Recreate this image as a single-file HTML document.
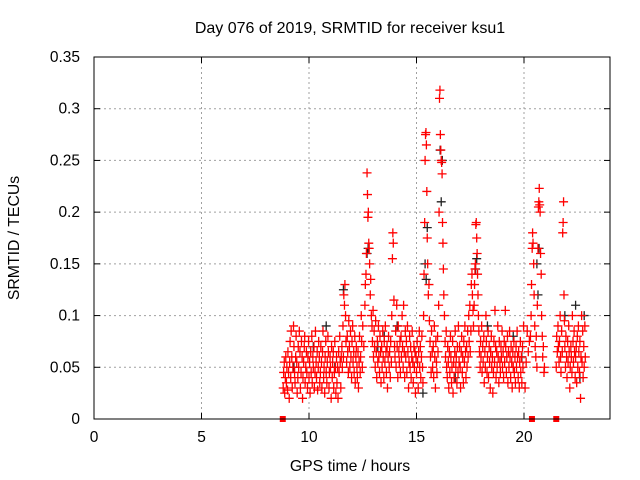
<!DOCTYPE html>
<html><head><meta charset="utf-8"><style>
body{margin:0;background:#fff}
svg{display:block;font-family:"Liberation Sans",sans-serif}
</style></head><body>
<svg id="chart" width="640" height="480" viewBox="0 0 640 480">
<rect width="640" height="480" fill="#fff"/>
<text x="350" y="33" text-anchor="middle" font-size="16">Day 076 of 2019, SRMTID for receiver ksu1</text>
<text x="350" y="471" text-anchor="middle" font-size="15.8">GPS time / hours</text>
<text transform="translate(19,238) rotate(-90)" text-anchor="middle" font-size="15.8">SRMTID / TECUs</text>
<g id="grid"></g>
<g id="axes"></g>
<g id="black"></g>
<g id="red"></g>
<rect x="94" y="57" width="516" height="362" fill="none" stroke="#000" stroke-width="1"/>
</svg>
<script>
const xTicks=[0,5,10,15,20];
const yTicks=[0,0.05,0.1,0.15,0.2,0.25,0.3,0.35];
const yTickLabels=["0","0.05","0.1","0.15","0.2","0.25","0.3","0.35"];
const gapMarkers=[8.78,20.37,21.5];
const blackPts=[[9.3,.05],[10.2,.07],[10.8,.09],[11.6,.125],[12.7,.16],[12.75,.165],[13.2,.07],[14.1,.09],[15.4,.15],[15.45,.135],[15.5,.185],[16.1,.26],[16.15,.21],[16.2,.25],[17.8,.155],[17.75,.145],[18.3,.09],[19.5,.08],[20.6,.15],[20.65,.12],[20.7,.165],[21.9,.1],[22.4,.11],[22.8,.1],[22.6,.04],[15.3,.025],[16.8,.04],[13.5,.08],[11.2,.05],[19.9,.06]];
const redPts=[[8.8,.03],[8.82,.045],[8.85,.055],[8.87,.025],[8.9,.04],[8.92,.06],[8.95,.035],[8.97,.05],[9.0,.028],[9.02,.065],[9.05,.045],[9.08,.02],[9.1,.055],[9.12,.075],[9.15,.04],[9.17,.085],[9.2,.06],[9.22,.03],[9.25,.05],[9.28,.09],[9.3,.07],[9.33,.045],[9.35,.035],[9.38,.06],[9.4,.08],[9.43,.055],[9.45,.025],[9.48,.04],[9.5,.07],
[9.52,.05],[9.55,.085],[9.58,.065],[9.6,.03],[9.63,.045],[9.65,.075],[9.68,.06],[9.7,.02],[9.72,.04],[9.75,.055],[9.78,.07],[9.8,.08],[9.82,.035],[9.85,.05],[9.88,.065],[9.9,.045],[9.93,.03],[9.95,.06],[9.98,.075],[10.0,.04],[10.03,.055],[10.05,.025],[10.08,.065],[10.1,.045],[10.13,.08],[10.15,.035],[10.18,.06],[10.2,.05],[10.23,.07],[10.25,.03],[10.28,.045],[10.3,.085],[10.33,.055],[10.35,.04],[10.38,.065],[10.4,.028],[10.43,.05],[10.45,.075],[10.48,.06],
[10.5,.035],[10.53,.045],[10.55,.07],[10.58,.055],[10.6,.03],[10.63,.065],[10.65,.085],[10.68,.04],[10.7,.05],[10.73,.025],[10.75,.06],[10.78,.075],[10.8,.045],[10.83,.035],[10.85,.055],[10.88,.08],[10.9,.065],[10.93,.03],[10.95,.045],[10.98,.06],[11.0,.05],[11.03,.02],[11.05,.07],[11.08,.04],[11.1,.055],[11.13,.065],[11.15,.03],[11.18,.045],[11.2,.075],[11.23,.05],[11.25,.025],[11.28,.06],[11.3,.035],[11.33,.05],[11.35,.02],[11.38,.065],[11.4,.045],[11.43,.08],[11.45,.055],[11.48,.03],
[11.5,.06],[11.53,.07],[11.55,.05],[11.58,.09],[11.6,.06],[11.62,.12],[11.65,.11],[11.67,.13],[11.7,.1],[11.72,.075],[11.75,.055],[11.78,.08],[11.8,.065],[11.83,.045],[11.85,.095],[11.88,.07],[11.9,.05],[11.93,.085],[11.95,.06],[11.98,.04],[12.0,.075],[12.03,.09],[12.05,.055],[12.08,.065],[12.1,.045],[12.13,.08],[12.15,.035],[12.18,.06],[12.2,.07],[12.23,.05],[12.25,.04],[12.28,.065],[12.3,.03],[12.33,.055],[12.35,.08],[12.38,.045],[12.4,.06],[12.43,.1],[12.45,.075],[12.48,.05],
[12.5,.09],[12.55,.07],[12.6,.11],[12.62,.13],[12.65,.14],[12.67,.16],[12.7,.238],[12.72,.217],[12.74,.195],[12.76,.2],[12.78,.17],[12.8,.165],[12.82,.15],[12.85,.12],[12.87,.135],[12.9,.1],[12.93,.09],[12.95,.075],[12.98,.105],
[13.0,.06],[13.03,.085],[13.05,.07],[13.08,.05],[13.1,.095],[13.13,.065],[13.15,.04],[13.18,.075],[13.2,.055],[13.23,.09],[13.25,.06],[13.28,.045],[13.3,.08],[13.33,.065],[13.35,.035],[13.38,.07],[13.4,.05],[13.43,.085],[13.45,.06],[13.48,.04],[13.5,.075],[13.53,.055],[13.55,.09],[13.58,.065],[13.6,.045],[13.63,.07],[13.65,.03],[13.68,.06],[13.7,.08],[13.73,.05],[13.75,.065],[13.78,.04],[13.8,.075],[13.83,.055],[13.85,.1],[13.88,.155],[13.9,.18],[13.92,.17],[13.95,.115],[13.98,.07],
[14.0,.06],[14.03,.085],[14.05,.05],[14.08,.11],[14.1,.07],[14.13,.04],[14.15,.09],[14.18,.065],[14.2,.055],[14.23,.075],[14.25,.045],[14.28,.08],[14.3,.06],[14.33,.1],[14.35,.07],[14.38,.05],[14.4,.11],[14.43,.065],[14.45,.04],[14.48,.085],[14.5,.06],[14.53,.075],[14.55,.045],[14.58,.09],[14.6,.065],[14.63,.03],[14.65,.055],[14.68,.08],[14.7,.05],[14.73,.07],[14.75,.04],[14.78,.06],[14.8,.085],[14.83,.055],[14.85,.035],[14.88,.07],[14.9,.05],[14.93,.065],[14.95,.025],[14.98,.06],
[15.0,.045],[15.03,.075],[15.05,.055],[15.08,.03],[15.1,.065],[15.13,.085],[15.15,.05],[15.18,.07],[15.2,.04],[15.23,.06],[15.25,.08],[15.28,.05],[15.3,.035],[15.33,.1],[15.35,.14],[15.38,.19],[15.4,.25],[15.42,.275],[15.44,.277],[15.46,.265],[15.48,.22],[15.5,.175],[15.52,.15],[15.55,.12],[15.58,.13],[15.6,.095],[15.63,.075],[15.65,.06],[15.68,.045],[15.7,.085],[15.73,.065],[15.75,.05],[15.78,.07],[15.8,.04],[15.83,.09],[15.85,.06],[15.88,.03],[15.9,.075],[15.93,.055],[15.95,.045],[15.98,.08],
[16.0,.065],[16.03,.11],[16.05,.2],[16.07,.31],[16.09,.318],[16.11,.275],[16.13,.26],[16.15,.25],[16.17,.248],[16.19,.237],[16.21,.19],[16.23,.17],[16.25,.145],[16.27,.12],[16.3,.1],[16.33,.075],[16.35,.06],[16.38,.085],[16.4,.05],[16.43,.04],[16.45,.07],[16.48,.055],[16.5,.03],[16.53,.065],[16.55,.045],[16.58,.08],[16.6,.06],[16.63,.035],[16.65,.05],[16.68,.075],[16.7,.025],[16.73,.055],[16.75,.04],[16.78,.065],[16.8,.085],[16.83,.05],[16.85,.06],[16.88,.035],[16.9,.07],[16.93,.045],[16.95,.09],[16.98,.055],
[17.0,.07],[17.03,.05],[17.05,.03],[17.08,.065],[17.1,.08],[17.13,.045],[17.15,.06],[17.18,.035],[17.2,.075],[17.23,.055],[17.25,.09],[17.28,.065],[17.3,.04],[17.33,.07],[17.35,.05],[17.38,.085],[17.4,.06],[17.43,.1],[17.45,.075],[17.48,.11],[17.5,.065],[17.53,.085],[17.55,.13],[17.58,.14],[17.6,.12],[17.63,.105],[17.65,.09],[17.68,.11],[17.7,.13],[17.72,.145],[17.74,.15],[17.76,.188],[17.78,.19],[17.8,.175],[17.82,.16],[17.84,.14],[17.86,.12],[17.88,.1],[17.9,.085],[17.93,.065],[17.96,.05],[17.98,.075],
[18.0,.06],[18.03,.09],[18.05,.045],[18.08,.07],[18.1,.055],[18.13,.08],[18.15,.035],[18.18,.065],[18.2,.05],[18.23,.1],[18.25,.075],[18.28,.045],[18.3,.06],[18.33,.085],[18.35,.04],[18.38,.07],[18.4,.055],[18.43,.03],[18.45,.065],[18.48,.08],[18.5,.05],[18.53,.06],[18.55,.025],[18.58,.045],[18.6,.075],[18.63,.055],[18.65,.105],[18.68,.07],[18.7,.04],[18.73,.065],[18.75,.05],[18.78,.09],[18.8,.06],[18.83,.035],[18.85,.075],[18.88,.055],[18.9,.045],[18.93,.07],[18.95,.06],[18.98,.085],
[19.0,.05],[19.03,.065],[19.05,.04],[19.08,.075],[19.1,.055],[19.13,.105],[19.15,.07],[19.18,.045],[19.2,.06],[19.23,.08],[19.25,.035],[19.28,.065],[19.3,.05],[19.33,.085],[19.35,.06],[19.38,.04],[19.4,.07],[19.43,.055],[19.45,.03],[19.48,.065],[19.5,.05],[19.53,.075],[19.55,.045],[19.58,.06],[19.6,.035],[19.63,.07],[19.65,.05],[19.68,.085],[19.7,.06],[19.73,.04],[19.75,.065],[19.78,.03],[19.8,.055],[19.83,.075],[19.85,.045],[19.88,.06],[19.9,.035],[19.93,.07],[19.95,.05],[19.98,.09],
[20.05,.03],[20.1,.055],[20.15,.085],[20.2,.065],[20.25,.075],[20.3,.08],[20.33,.1],[20.35,.13],[20.38,.165],[20.4,.18],[20.42,.17],[20.45,.15],[20.47,.12],[20.5,.09],[20.52,.07],[20.55,.06],[20.57,.08],[20.6,.05],[20.62,.11],[20.65,.165],[20.67,.205],[20.69,.21],[20.71,.223],[20.73,.207],[20.75,.2],[20.77,.16],[20.8,.14],[20.82,.1],[20.85,.08],[20.87,.06],[20.9,.07],[20.93,.045],[20.95,.05],
[21.5,.05],[21.52,.08],[21.55,.065],[21.58,.09],[21.6,.07],[21.63,.055],[21.65,.075],[21.68,.1],[21.7,.06],[21.72,.045],[21.75,.085],[21.78,.065],[21.8,.18],[21.82,.19],[21.84,.21],[21.86,.12],[21.88,.095],[21.9,.07],[21.93,.05],[21.95,.08],[21.98,.06],[22.0,.04],[22.03,.075],[22.05,.055],[22.08,.09],[22.1,.065],[22.13,.03],[22.15,.05],[22.18,.07],[22.2,.06],[22.23,.045],[22.25,.1],[22.28,.075],[22.3,.055],[22.33,.085],[22.35,.065],[22.38,.04],[22.4,.06],[22.43,.07],[22.45,.035],[22.48,.08],[22.5,.05],[22.53,.09],[22.55,.065],[22.58,.045],[22.6,.075],[22.63,.02],[22.65,.06],[22.68,.1],[22.7,.055],[22.73,.085],[22.75,.04],[22.78,.07],[22.8,.05],[22.83,.09],[22.85,.06]];

const X0=94,X1=610,Y0=419,Y1=57,XMAX=24,YMAX=0.35;
function xs(v){return X0+(X1-X0)*v/XMAX;}
function ys(v){return Y0-(Y0-Y1)*v/YMAX;}
const NS="http://www.w3.org/2000/svg";
function mk(tag,attrs,parent){const e=document.createElementNS(NS,tag);for(const k in attrs)e.setAttribute(k,attrs[k]);parent.appendChild(e);return e;}
const grid=document.getElementById('grid'),axes=document.getElementById('axes');
xTicks.forEach(t=>{
  const x=xs(t);
  if(t>0){const g=mk('line',{x1:x,x2:x,y1:Y0,y2:Y1,stroke:'#a0a0a0','stroke-dasharray':'2,3'},grid);
  
  }
  const a=mk('line',{x1:x,x2:x,y1:Y0,y2:Y0-6,stroke:'#000'},axes);
  
  
  const b=mk('line',{x1:x,x2:x,y1:Y1,y2:Y1+6,stroke:'#000'},axes);
  
  
  const l=mk('text',{x:x,y:442,'text-anchor':'middle','font-size':15.5},axes);
  l.textContent=String(t);
  
  
});
yTicks.forEach((t,i)=>{
  const y=ys(t);
  if(t>0&&t<YMAX){const g=mk('line',{x1:X0,x2:X1,y1:y,y2:y,stroke:'#a0a0a0','stroke-dasharray':'2,3'},grid);
  
  }
  const a=mk('line',{x1:X0,x2:X0+6,y1:y,y2:y,stroke:'#000'},axes);
  
  
  const b=mk('line',{x1:X1,x2:X1-6,y1:y,y2:y,stroke:'#000'},axes);
  
  
  const l=mk('text',{x:80,y:y+5,'text-anchor':'end','font-size':15.5},axes);
  l.textContent=yTickLabels[i];
  
  
});
function plus(g,p,color){
  const x=xs(p[0]),y=ys(p[1]);
  const e=mk('path',{d:`M${x-4.5},${y}h9M${x},${y-4.5}v9`,stroke:color,'stroke-width':1.3,fill:'none'},g);
  
  
}
const bg=document.getElementById('black'),rg=document.getElementById('red');
blackPts.forEach(p=>plus(bg,p,'#222'));
redPts.forEach(p=>plus(rg,p,'#ff0000'));
gapMarkers.forEach(t=>{
  const r=mk('rect',{x:xs(t)-3,y:Y0-3,width:6,height:6,fill:'#ff0000'},rg);
  
  
});
</script>
</body></html>
